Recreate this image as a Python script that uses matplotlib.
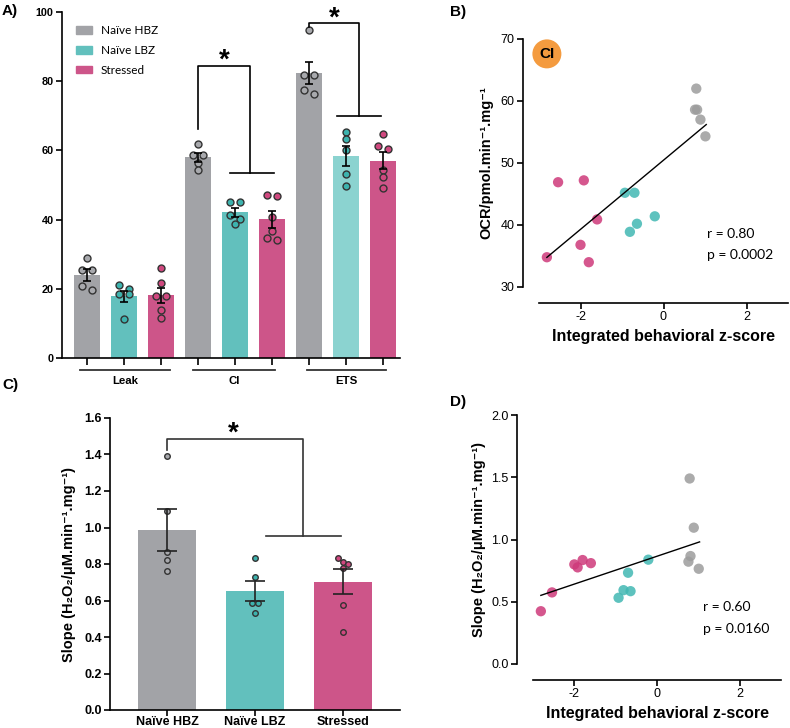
import numpy as np
import matplotlib
matplotlib.use('Agg')
import matplotlib.pyplot as plt
from matplotlib.patches import Patch

plt.rcParams['font.family'] = ['Liberation Sans', 'DejaVu Sans']
plt.rcParams['axes.unicode_minus'] = False

groups = ['Naïve HBZ', 'Naïve LBZ', 'Stressed']
states = ['Leak', 'CI', 'ETS']

# panel A: OCR per animal (pmol/min/mg), order Leak, CI, ETS x HBZ, LBZ, Stressed
leak_hbz = [28.8, 25.3, 25.3, 20.7, 19.7]
leak_lbz = [21.0, 19.9, 18.4, 18.4, 11.3]
leak_str = [26.0, 21.6, 18.0, 18.0, 13.9, 11.5]
ci_hbz = [61.8, 58.7, 58.7, 56.4, 54.3]
ci_lbz = [45.2, 45.2, 41.3, 40.1, 38.8]
ci_str = [46.9, 47.1, 40.8, 36.8, 34.0, 34.6]
ets_hbz = [94.7, 81.7, 81.7, 77.6, 76.4]
ets_lbz = [65.4, 63.3, 60.1, 53.2, 49.7]
ets_str = [64.7, 61.4, 60.5, 54.3, 52.2, 49.2]

# panel C: H2O2 slope per animal
c_hbz = [1.391, 1.093, 0.864, 0.824, 0.762]
c_lbz = [0.833, 0.729, 0.587, 0.584, 0.529]
c_str = [0.835, 0.810, 0.800, 0.776, 0.575, 0.425]

# panels B, D: integrated behavioral z-score per animal
z_hbz = [0.79, 0.76, 0.81, 0.89, 1.01]
z_lbz = [-0.93, -0.70, -0.21, -0.64, -0.81]
z_str = [-2.81, -2.54, -2.00, -1.92, -1.80, -1.60]
ocr_hbz = [62.0, 58.6, 58.6, 57.0, 54.3]
ocr_lbz = [45.2, 45.2, 41.4, 40.2, 38.9]
ocr_str = [34.8, 46.9, 36.8, 47.2, 34.0, 40.9]
slope_hbz = [1.49, 0.822, 0.867, 1.095, 0.765]
slope_lbz = [0.532, 0.733, 0.838, 0.585, 0.593]
slope_str = [0.424, 0.575, 0.800, 0.776, 0.835, 0.810]

bar_cols = ['#A2A3A7', '#62C0BD', '#CD5589']
pt_cols = ['#A8A9AD', '#3DB3AE', '#D0487F']
sc_cols = ['#9C9C9C', '#42B8B3', '#CE3A7A']

slope_label = 'Slope (H\u2082O\u2082/μM.min\u207b\u00b9.mg\u207b\u00b9)'

W, H = 790, 728
fig = plt.figure(figsize=(W / 100, H / 100), dpi=100)


def px_axes(l, t, r, b):
    return fig.add_axes([l / W, 1 - b / H, (r - l) / W, (b - t) / H])


def spread(vals, thr, step):
    # points closer than thr to the first of a row are put side by side
    vals = np.asarray(vals)
    order = np.argsort(-vals, kind='stable')
    offs = np.zeros(len(vals))
    grps, g = [], [order[0]]
    for i in order[1:]:
        if vals[g[0]] - vals[i] < thr:
            g.append(i)
        else:
            grps.append(g)
            g = [i]
    grps.append(g)
    for g in grps:
        for k, i in enumerate(g):
            offs[i] = (k - (len(g) - 1) / 2) * step
    return offs


def sem(v):
    return np.std(v, ddof=1) / np.sqrt(len(v))


def style(ax, fs):
    for s in ['top', 'right']:
        ax.spines[s].set_visible(False)
    for s in ['left', 'bottom']:
        ax.spines[s].set_linewidth(1.2)
    ax.tick_params(width=1.2, length=4, labelsize=fs, pad=2)
    for lab in ax.get_xticklabels() + ax.get_yticklabels():
        lab.set_fontweight('bold')


# ---------- A ----------
ax = px_axes(62, 12, 400, 358)
a_sets = [leak_hbz, leak_lbz, leak_str, ci_hbz, ci_lbz, ci_str, ets_hbz, ets_lbz, ets_str]
pos = np.arange(len(a_sets))
cols = [bar_cols[i % 3] for i in pos]
cols[7] = '#8BD3D0'
means = [np.mean(v) for v in a_sets]
errs = [sem(v) for v in a_sets]
ax.bar(pos, means, width=0.68, color=cols, zorder=1)
for i, v in enumerate(a_sets):
    ax.plot(pos[i] + spread(v, 2.0, 0.25), v, 'o', ms=5, mfc=pt_cols[i % 3],
            mec='#333333', mew=1.0, zorder=2, clip_on=False)
ax.errorbar(pos, means, yerr=errs, fmt='none', ecolor='black', elinewidth=1.2,
            capsize=3, capthick=1.2, zorder=3)
ax.set_xlim(-0.676, 8.46)
ax.set_ylim(0, 100)
ax.set_yticks(np.arange(0, 101, 20))
ax.set_xticks(pos)
ax.set_xticklabels([])
style(ax, 7.8)
ax.tick_params(axis='x', length=5)
tr = ax.get_xaxis_transform()
for (x0, x1), name in zip([(-0.19, 2.24), (2.86, 5.08), (5.95, 8.08)], states):
    ax.plot([x0, x1], [-0.035, -0.035], color='#333333', lw=1.3, transform=tr, clip_on=False)
    ax.text((x0 + x1) / 2, -0.066, name, transform=tr, ha='center', va='center',
            fontsize=8.2, fontweight='bold')
# significance brackets
ax.plot([3.0, 3.0, 4.41, 4.41], [66.3, 84.3, 84.3, 53.6], color='black', lw=1.2)
ax.plot([3.86, 5.05], [53.6, 53.6], color='black', lw=1.2)
ax.text(3.72, 86.0, '*', ha='center', va='center', fontsize=20, fontweight='bold')
ax.plot([6.0, 6.0, 7.35, 7.35], [95.8, 96.8, 96.8, 69.9], color='black', lw=1.2, clip_on=False)
ax.plot([6.76, 7.95], [69.9, 69.9], color='black', lw=1.2)
ax.text(6.68, 98.0, '*', ha='center', va='center', fontsize=20, fontweight='bold', clip_on=False)
handles = [Patch(color=c, label=g) for c, g in zip(bar_cols, groups)]
ax.legend(handles=handles, loc='upper left', bbox_to_anchor=(0.041, 0.962), frameon=False,
          borderpad=0, borderaxespad=0, handlelength=1.35, handleheight=0.6,
          labelspacing=0.75, handletextpad=0.75, prop={'family': 'Lato', 'size': 8.5})
fig.text(2 / W, 1 - 11 / H, 'A)', fontsize=11, fontweight='bold', va='center')

# ---------- B ----------
ax = px_axes(539, 39, 788, 287)
for z, y, c in zip([z_hbz, z_lbz, z_str], [ocr_hbz, ocr_lbz, ocr_str], sc_cols):
    ax.scatter(z, y, s=55, color=c, alpha=0.85, edgecolors='none', zorder=2)
zx = np.concatenate([z_hbz, z_lbz, z_str])
zy = np.concatenate([ocr_hbz, ocr_lbz, ocr_str])
k, b = np.polyfit(zx, zy, 1)
xs = np.array([zx.min(), zx.max() + 0.02])
ax.plot(xs, k * xs + b, color='black', lw=1.0, zorder=3)
ax.set_xlim(-3, 3)
ax.set_ylim(30, 70)
ax.set_xticks([-2, 0, 2])
ax.set_yticks([30, 40, 50, 60, 70])
style(ax, 9)
for s in ['left', 'bottom']:
    ax.spines[s].set_position(('outward', 11.5))
ax.set_xlabel('Integrated behavioral z-score', fontsize=11.5, fontweight='bold', labelpad=4)
ax.set_ylabel('OCR/pmol.min\u207b\u00b9.mg\u207b\u00b9', fontsize=10.5,
              fontweight='bold', labelpad=5)
ax.text(-2.81, 67.6, 'CI', ha='center', va='center', fontsize=11, fontweight='bold',
        bbox=dict(boxstyle='circle,pad=0.45', fc='#F49B3F', ec='none'))
ax.text(1.05, 38.6, 'r = 0.80', fontsize=10, family='Lato', va='center')
ax.text(1.05, 35.2, 'p = 0.0002', fontsize=10, family='Lato', va='center')
fig.text(450 / W, 1 - 12 / H, 'B)', fontsize=11, fontweight='bold', va='center')

# ---------- C ----------
ax = px_axes(110, 418, 400, 710)
c_sets = [c_hbz, c_lbz, c_str]
pos = np.arange(3)
means = [np.mean(v) for v in c_sets]
errs = [sem(v) for v in c_sets]
ax.bar(pos, means, width=0.66, color=bar_cols, zorder=1)
for i, v in enumerate(c_sets):
    ax.plot(pos[i] + spread(v, 0.038, 0.06), v, 'o', ms=4, mfc=pt_cols[i],
            mec='#333333', mew=1.0, zorder=2)
ax.errorbar(pos, means, yerr=errs, fmt='none', ecolor='#222222', elinewidth=1.2,
            capsize=7, capthick=1.2, zorder=3)
ax.set_xlim(-0.65, 2.65)
ax.set_ylim(0, 1.6)
ax.set_yticks(np.arange(0, 1.61, 0.2))
ax.set_yticklabels([f'{t:.1f}' for t in np.arange(0, 1.61, 0.2)])
ax.set_xticks(pos)
ax.set_xticklabels(groups)
style(ax, 9)
ax.tick_params(axis='x', length=4, labelsize=9, pad=0.5)
ax.set_ylabel(slope_label, fontsize=10.5, fontweight='bold', labelpad=6)
ax.plot([0, 0, 1.545, 1.545], [1.427, 1.484, 1.484, 0.956], color='#333333', lw=1.2)
ax.plot([1.125, 1.98], [0.956, 0.956], color='#333333', lw=1.2)
ax.text(0.75, 1.515, '*', ha='center', va='center', fontsize=20, fontweight='bold')
fig.text(2 / W, 1 - 385 / H, 'C)', fontsize=11, fontweight='bold', va='center')

# ---------- D ----------
ax = px_axes(533, 415, 781, 664)
for z, y, c in zip([z_hbz, z_lbz, z_str], [slope_hbz, slope_lbz, slope_str], sc_cols):
    ax.scatter(z, y, s=55, color=c, alpha=0.85, edgecolors='none', zorder=2)
zy = np.concatenate([slope_hbz, slope_lbz, slope_str])
k, b = np.polyfit(zx, zy, 1)
ax.plot(xs, k * xs + b, color='black', lw=1.0, zorder=3)
ax.set_xlim(-3, 3)
ax.set_ylim(0, 2)
ax.set_xticks([-2, 0, 2])
ax.set_yticks([0, 0.5, 1.0, 1.5, 2.0])
ax.set_yticklabels(['0.0', '0.5', '1.0', '1.5', '2.0'])
style(ax, 9)
for s in ['left', 'bottom']:
    ax.spines[s].set_position(('outward', 11.5))
ax.set_xlabel('Integrated behavioral z-score', fontsize=11.5, fontweight='bold', labelpad=4)
ax.set_ylabel(slope_label, fontsize=10.5, fontweight='bold', labelpad=4)
ax.text(1.12, 0.46, 'r = 0.60', fontsize=10, family='Lato', va='center')
ax.text(1.12, 0.28, 'p = 0.0160', fontsize=10, family='Lato', va='center')
fig.text(450 / W, 1 - 402 / H, 'D)', fontsize=11, fontweight='bold', va='center')

fig.savefig('out.png', dpi=100)
